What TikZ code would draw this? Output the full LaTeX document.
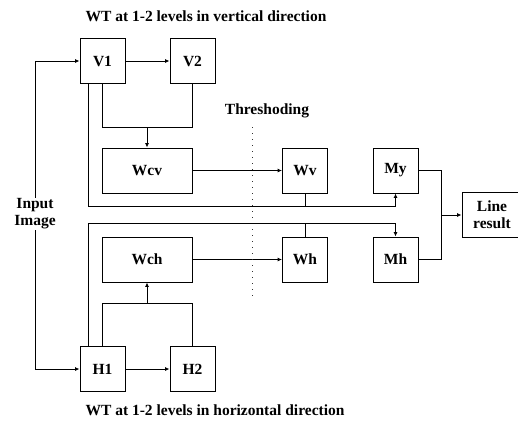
\documentclass[tikz,border=0pt]{standalone}
\usepackage{fontspec}
\setmainfont{Liberation Serif}
\usepackage{tikz}
\usetikzlibrary{arrows.meta, positioning, calc}
\usepackage{xcolor}
\definecolor{ink}{HTML}{000000}
\definecolor{dotgray}{HTML}{333333}
\newcommand{\lbl}{\fontsize{15.5}{17}\selectfont\bfseries}

\begin{document}
\begin{tikzpicture}[x=1pt, y=-1pt,
        block/.style={draw=ink, line width=0.9pt, minimum width=45pt, minimum height=45pt, inner sep=0pt, font=\lbl},
        wideblock/.style={block, minimum width=90pt},
        flow/.style={ink, line width=0.9pt, -{Latex[length=4.5pt, width=4pt]}},
        link/.style={ink, line width=0.9pt},
        caption/.style={font=\lbl, text=ink, inner sep=1pt}]
                \useasboundingbox (0,0) rectangle (518,421);

                % 1. Captions
                \node[caption] (ttop) at (206,16) {WT at 1-2 levels in vertical direction};
                \node[caption] (tbot) at (215,410) {WT at 1-2 levels in horizontal direction};
                \node[caption, align=center] (inp) at (35,214) {Input\\Image};
                \node[caption] (thr) at (267,111) {Threshoding};

                % 2. Blocks
                \node[block] (v1) at (102.5,61) {V1};
                \node[block] (v2) at (192.5,61) {V2};
                \node[wideblock] (wcv) at (147,170.5) {Wcv};
                \node[block] (wv) at (305,170.5) {Wv};
                \node[block] (my) at (395.5,170.5) {My};
                \node[wideblock] (wch) at (147,259.5) {Wch};
                \node[block] (wh) at (305,259.5) {Wh};
                \node[block] (mh) at (395.5,259.5) {Mh};
                \node[block] (h1) at (102.5,369) {H1};
                \node[block] (h2) at (192.5,369) {H2};
                \node[block, minimum width=60pt, align=center] (res) at (492,215) {Line\\result};

                % 3. Input feeds and level steps
                \draw[flow] (inp.north) -- (inp.north |- v1.west) -- (v1.west);
                \draw[flow] (inp.south) -- (inp.south |- h1.west) -- (h1.west);
                \draw[flow] (v1) -- (v2);
                \draw[flow] (h1) -- (h2);

                % 4. Combining the levels
                \coordinate (vjoin) at (147,127);
                \coordinate (hjoin) at (147,303);
                \draw[link] (v1.south) -- (v1.south |- vjoin) -- (v2.south |- vjoin) -- (v2.south);
                \draw[flow] (vjoin) -- (wcv.north);
                \draw[link] (h1.north) -- (h1.north |- hjoin) -- (h2.north |- hjoin) -- (h2.north);
                \draw[flow] (hjoin) -- (wch.south);
                \draw[flow] (wcv) -- (wv);
                \draw[flow] (wch) -- (wh);

                % 5. Threshold line
                \coordinate (dtop) at (252,127);
                \coordinate (dbot) at (252,298);
                \draw[dotgray, line width=1pt, dash pattern=on 1pt off 5pt] (dtop) -- (dbot);

                % 6. Bypass buses to the maps
                \coordinate (vtap) at ($(v1.south west)+(9,0)$);
                \coordinate (htap) at ($(h1.north west)+(9,0)$);
                \coordinate (ybus) at (0,206);
                \coordinate (hbus) at (0,223);
                \draw[flow] (vtap) -- (vtap |- ybus) -- (my.south |- ybus) -- (my.south);
                \draw[link] (wv.south) -- (wv.south |- ybus);
                \draw[flow] (htap) -- (htap |- hbus) -- (mh.north |- hbus) -- (mh.north);
                \draw[link] (wh.north) -- (wh.north |- hbus);

                % 7. Merge to result
                \coordinate (merge) at (441,215);
                \draw[link] (my.east) -- (my.east -| merge) -- (mh.east -| merge) -- (mh.east);
                \draw[flow] (merge) -- (res.west);
            \end{tikzpicture}
\end{document}
